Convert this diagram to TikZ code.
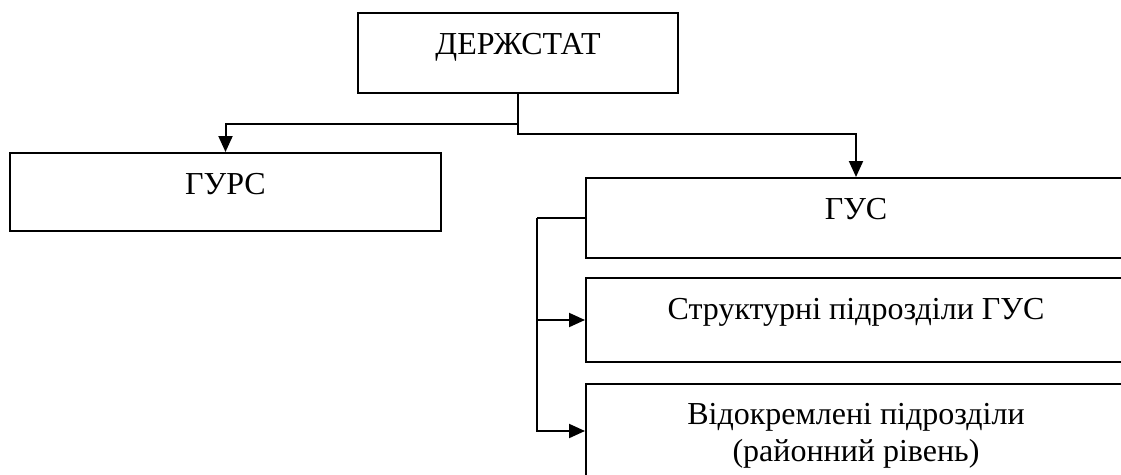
\documentclass[tikz,border=0pt]{standalone}
\usepackage{fontspec}
\setmainfont{Liberation Serif}
\usetikzlibrary{arrows.meta,positioning}

\begin{document}
\begin{tikzpicture}
	[x=1pt,y=-1pt,
		block/.style		={rectangle, draw, line width=2pt, anchor=north west,
									inner sep=0pt},
		caption/.style	={below=21pt, inner sep=0pt, align=center,
									font=\fontsize{32}{37}\selectfont},
		line/.style		 	={draw, line width=2pt, -{Triangle[length=16pt,width=14pt]}}
	]
\clip (0,0) rectangle (1121,474);
% row 1
	\node [block, minimum width=320pt, minimum height=80pt,
		label={[caption]north:ДЕРЖСТАТ}] (derzhstat) at (357,12) {};
% row 2
	\node [block, minimum width=431pt, minimum height=78pt,
		label={[caption]north:ГУРС}] (gurs) at (9,152) {};
	\node [block, minimum width=540pt, minimum height=80pt,
		label={[caption]north:ГУС}] (gus) at (585,177) {};
% row 3
	\node [block, minimum width=540pt, minimum height=84pt,
		label={[caption]north:Структурні підрозділи ГУС}] (structural) at (585,277) {};
% row 4
	\node [block, minimum width=540pt, minimum height=100pt,
		label={[caption, below=20pt]north:Відокремлені підрозділи\\(районний рівень)}] (separate) at (585,383) {};

\path [line]	(derzhstat.south)	-- ++(0,30) -| (gurs.north);
\path [line]	(derzhstat.south)	-- ++(0,40) -| (gus.north);

\path [draw, line width=2pt]	(gus.west) -- ++(-48,0) coordinate (bus);
\path [line]	(bus)	|- (structural.west);
\path [line]	(bus)	|- ([yshift=-48pt]separate.north west);
\end{tikzpicture}
\end{document}
